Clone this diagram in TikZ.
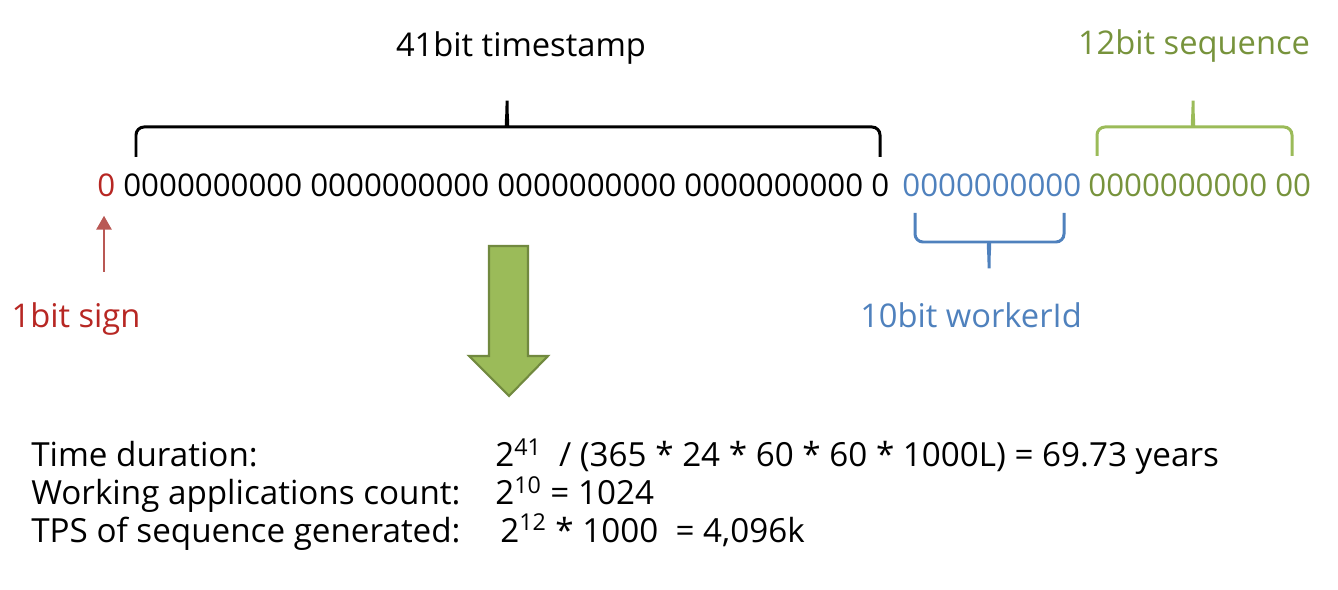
\documentclass[tikz,border=0pt]{standalone}
\usepackage{fontspec}
\setmainfont{Open Sans}
\usetikzlibrary{arrows.meta}
\definecolor{signred}{RGB}{183,39,35}
\definecolor{signarrow}{RGB}{185,88,84}
\definecolor{wblue}{RGB}{79,129,189}
\definecolor{stext}{RGB}{119,147,60}
\definecolor{sgreen}{RGB}{155,187,89}
\definecolor{sgreendark}{RGB}{113,137,63}

\begin{document}
\begin{tikzpicture}[x=0.02cm,y=-0.02cm,
  bits/.style={anchor=base west,inner sep=0pt,font=\fontsize{17.8}{20}\selectfont},
  lbl/.style={anchor=base,inner sep=0pt,font=\fontsize{18.6}{22}\selectfont},
  txt/.style={anchor=base west,inner sep=0pt,font=\fontsize{18.9}{22}\selectfont},
  brc/.style={line width=1.7pt,rounded corners=0.16cm}]
\useasboundingbox (0,0) rectangle (1338,590);

%bit string
\node[bits,text=signred] (sgn) at (97,197) {0};
\node[bits] (ts) at (123,197) {0000000000 0000000000 0000000000 0000000000 0};
\node[bits,text=wblue] (wid) at (902,197) {0000000000};
\node[bits,text=stext] (seq) at (1088,197) {0000000000 00};

%labels
\node[lbl] (tslbl) at (521,57) {41bit timestamp};
\node[lbl,text=stext] (seqlbl) at (1194,55) {12bit sequence};
\node[lbl,text=signred] (sgnlbl) at (76,328) {1bit sign};
\node[lbl,text=wblue] (widlbl) at (971,328) {10bit workerId};

%braces
\draw[brc] (136,157) |- (500,127) .. controls (505,127) and (507,120) .. (507,96)
  .. controls (507,120) and (509,127) .. (514,127) -| (880,157);
\draw[brc,sgreen] (1097,156) |- (1186,127) .. controls (1191,127) and (1193,120) .. (1193,96)
  .. controls (1193,120) and (1195,127) .. (1200,127) -| (1292,156);
\draw[brc,wblue] (915,213) |- (982,242) .. controls (987,242) and (989,249) .. (989,273)
  .. controls (989,249) and (991,242) .. (996,242) -| (1064,213);

%sign arrow
\coordinate (signtail) at (104,272);
\draw[signarrow,line width=1.7pt,-{Triangle[length=8pt,width=8.5pt]},shorten >=0.36cm]
  (signtail) -- (signtail |- sgn.south);

%big arrow
\draw[sgreendark,fill=sgreen,line width=1.2pt,line join=miter]
  (489,246) -- (528,246) -- (528,356) -- (548,356) -- (509,396) -- (469,356) -- (489,356) -- cycle;

%results
\foreach \n/\y/\t in {1/467/{Time duration:},2/505/{Working applications count:},3/542/{TPS of sequence generated:}}{
\node[txt] (row\n) at (31,\y) {\t};
}
\node[txt] (val1) at (495,467) {2\textsuperscript{41}\ \ / (365 * 24 * 60 * 60 * 1000L) = 69.73 years};
\node[txt] (val2) at (495,505) {2\textsuperscript{10} = 1024};
\node[txt] (val3) at (500,542) {2\textsuperscript{12} * 1000\ \ = 4,096k};
\end{tikzpicture}
\end{document}
